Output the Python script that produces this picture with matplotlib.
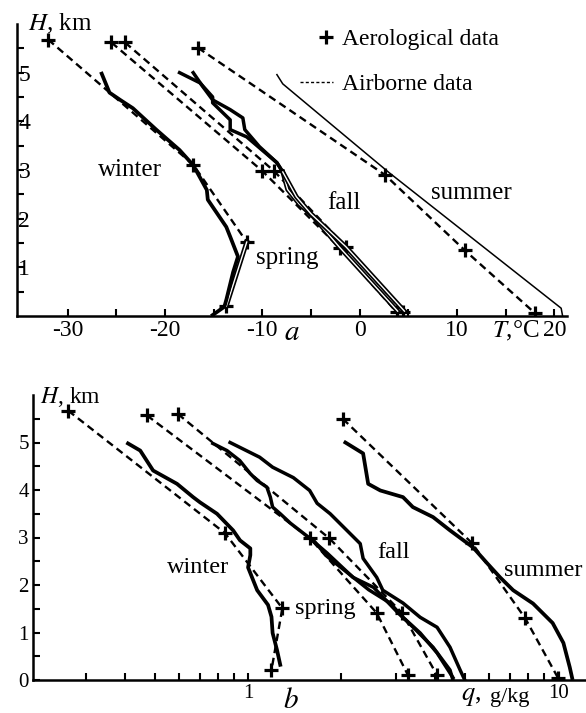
import matplotlib
matplotlib.use("Agg")
import matplotlib.pyplot as plt
import matplotlib.patheffects as pe
from matplotlib.lines import Line2D
from matplotlib.legend_handler import HandlerLine2D
from matplotlib.ticker import FixedLocator, NullFormatter
import numpy as np

plt.rcParams['font.family'] = ['Liberation Serif', 'DejaVu Serif']
plt.rcParams['mathtext.fontset'] = 'stix'
plt.rcParams['axes.unicode_minus'] = False

# ---- panel a: temperature profiles (T, deg C vs H, km) ----
# aerological soundings (dashed with +)
t_winter_aero = [-32.0, -17.1, -11.6, -13.7]
h_winter_aero = [5.68, 3.11, 1.52, 0.20]
t_spring_aero = [-25.5, -10.0, -2.05, 3.8]
h_spring_aero = [5.62, 2.98, 1.40, 0.08]
t_fall_aero = [-24.1, -8.8, -1.4, 4.5]
h_fall_aero = [5.62, 2.98, 1.42, 0.08]
t_summer_aero = [-16.6, 2.6, 10.8, 18.0]
h_summer_aero = [5.51, 2.90, 1.35, 0.06]

# airborne profiles (solid)
t_winter_air = [-26.5, -25.7, -24.6, -23.3, -20.9, -18.5, -17.1, -15.7, -15.6,
                -13.7, -13.3, -12.5, -13.0, -13.7, -13.9, -15.1]
h_winter_air = [4.98, 4.59, 4.44, 4.27, 3.83, 3.41, 3.10, 2.59, 2.39,
                1.83, 1.63, 1.22, 0.90, 0.33, 0.19, 0.02]
t_spring_air = [-18.5, -16.4, -15.1, -15.1, -13.3, -13.3, -11.6, -8.5, -7.9]
h_spring_air = [5.00, 4.79, 4.50, 4.38, 4.03, 3.83, 3.68, 3.15, 2.96]
t_spring_air_low = [-7.9, -7.4, -6.2, -4.8, -2.1, 3.9]
h_spring_air_low = [2.96, 2.60, 2.30, 2.05, 1.42, 0.10]
t_fall_air = [-17.1, -16.1, -15.1, -13.3, -12.0, -11.8, -10.3, -8.5, -7.9]
h_fall_air = [5.00, 4.71, 4.44, 4.24, 4.07, 3.83, 3.48, 3.15, 2.96]
t_fall_air_low = [-7.9, -6.5, -5.0, -1.4, 4.6]
h_fall_air_low = [2.96, 2.45, 2.10, 1.42, 0.10]
t_summer_air = [-8.5, -7.9, 0.0, 3.0, 20.7, 20.85]
h_summer_air = [4.96, 4.77, 3.45, 2.95, 0.16, 0.0]

# ---- panel b: specific humidity profiles (q, g/kg vs H, km) ----
q_winter_aero = [0.263, 0.843, 1.29, 1.19]
hq_winter_aero = [5.67, 3.09, 1.51, 0.21]
q_spring_aero = [0.472, 1.585, 2.6, 3.28]
hq_spring_aero = [5.57, 2.98, 1.41, 0.10]
q_fall_aero = [0.594, 1.83, 3.14, 4.07]
hq_fall_aero = [5.60, 2.98, 1.41, 0.10]
q_summer_aero = [2.02, 5.28, 7.83, 10.0]
hq_summer_aero = [5.50, 2.88, 1.30, 0.04]

q_winter_air = [0.41, 0.449, 0.494, 0.59, 0.665, 0.70, 0.794, 0.895, 0.942, 1.017,
                1.017, 1.0, 1.07, 1.16, 1.19, 1.20, 1.24, 1.27]
hq_winter_air = [4.98, 4.83, 4.41, 4.13, 3.85, 3.74, 3.50, 3.15, 2.94, 2.77,
                 2.63, 2.37, 1.89, 1.58, 1.33, 0.99, 0.63, 0.32]
q_spring_air = [0.77, 0.855, 0.94, 1.015, 1.07, 1.15, 1.18, 1.20, 1.27, 1.37, 1.585,
                1.80, 2.18, 2.54, 3.05, 3.41, 3.95, 4.48, 4.58]
hq_spring_air = [4.98, 4.83, 4.62, 4.35, 4.20, 4.06, 3.85, 3.64, 3.50, 3.30, 2.98,
                 2.67, 2.16, 1.95, 1.41, 1.11, 0.69, 0.21, 0.0]
q_spring_air2 = [1.62, 1.80, 2.45, 2.87, 3.16, 3.59, 4.07, 4.58]
hq_spring_air2 = [2.95, 2.60, 1.90, 1.62, 1.32, 0.99, 0.57, 0.05]
q_fall_air = [0.875, 1.09, 1.20, 1.40, 1.58, 1.67, 1.84, 2.30, 2.35, 2.60, 2.72,
              3.16, 3.59, 4.07, 4.48, 4.83, 5.0]
hq_fall_air = [5.00, 4.69, 4.48, 4.26, 3.99, 3.72, 3.50, 2.87, 2.56, 2.16, 1.89,
               1.62, 1.32, 1.11, 0.69, 0.21, 0.0]
q_summer_air = [2.06, 2.35, 2.44, 2.67, 3.16, 3.40, 3.95, 4.48, 5.32, 5.90, 6.50,
                7.16, 8.30, 9.60, 10.4, 10.9, 11.1]
hq_summer_air = [5.00, 4.77, 4.13, 3.99, 3.85, 3.64, 3.43, 3.15, 2.79, 2.46, 2.16,
                 1.89, 1.61, 1.20, 0.78, 0.27, 0.04]

season_names = ['winter', 'spring', 'fall', 'summer']
t_label_pos = [(-23.6, 3.0), (-7.4, 1.19), (-1.6, 2.33), (11.5, 2.53)]
q_label_pos = [(0.69, 2.37), (1.77, 1.51), (2.94, 2.69), (8.95, 2.31)]


def aero(ax, x, y):
    ax.plot(x, y, color='k', lw=1.7, dashes=(3.2, 2.0), marker='+', ms=10, mew=2.3)


def air(ax, x, y, lw=2.5):
    ax.plot(x, y, color='k', lw=lw, solid_joinstyle='round')


def outlined(ax, x, y):
    ax.plot(x, y, color='w', lw=1.0,
            path_effects=[pe.Stroke(linewidth=3.4, foreground='k'), pe.Normal()])


class MarkerRight(HandlerLine2D):
    # single "+" near the right end of the legend handle box
    def get_xdata(self, legend, xdescent, ydescent, width, height, fontsize):
        x = np.array([-xdescent + 0.8 * width])
        return x, x


fig = plt.figure(figsize=(5.86, 7.13), dpi=100)

# ---------- panel a ----------
ax1 = fig.add_axes([17 / 586, 1 - 316 / 713, 550 / 586, 292 / 713])
for t, h in [(t_winter_aero, h_winter_aero), (t_spring_aero, h_spring_aero),
             (t_fall_aero, h_fall_aero), (t_summer_aero, h_summer_aero)]:
    aero(ax1, t, h)
outlined(ax1, t_winter_aero[2:], h_winter_aero[2:])
air(ax1, t_winter_air, h_winter_air, lw=2.7)
air(ax1, t_spring_air, h_spring_air)
air(ax1, t_fall_air, h_fall_air)
outlined(ax1, t_spring_air_low, h_spring_air_low)
outlined(ax1, t_fall_air_low, h_fall_air_low)
air(ax1, t_summer_air, h_summer_air, lw=1.1)

ax1.set_xlim(-35.2, 21.3)
ax1.set_ylim(0, 6.0)
ax1.set_xticks([-30, -20, -10, 0, 10, 20])
ax1.set_xticklabels(['-30', '-20', '-10', '0', '10', '20'])
ax1.xaxis.set_minor_locator(FixedLocator([-25, -15, -5, 5, 15]))
ax1.set_yticks([1, 2, 3, 4, 5])
ax1.yaxis.set_minor_locator(FixedLocator([0.5, 1.5, 2.5, 3.5, 4.5, 5.5]))
ax1.tick_params(which='both', direction='in', width=1.5, length=5)
ax1.tick_params(axis='x', labelsize=17, pad=3)
ax1.tick_params(axis='y', labelsize=17, pad=-1)
for lab in ax1.get_yticklabels():
    lab.set_horizontalalignment('left')
for s in ['top', 'right']:
    ax1.spines[s].set_visible(False)
for s in ['left', 'bottom']:
    ax1.spines[s].set_linewidth(1.8)

for name, (x, y) in zip(season_names, t_label_pos):
    ax1.text(x, y, name, fontsize=18, ha='center', va='center')
ax1.text(0.02, 1.0, '$H$, km', transform=ax1.transAxes, fontsize=18, va='center')
ax1.text(-7.0, -0.058, '$a$', transform=ax1.get_xaxis_transform(), fontsize=21,
         ha='center', va='center')
ax1.text(13.6, -0.05, '$T$,°C', transform=ax1.get_xaxis_transform(), fontsize=18,
         ha='left', va='center')

h_aero = Line2D([], [], ls='none', color='k', marker='+', ms=10, mew=2.3)
h_air = Line2D([], [], color='k', lw=1.0, dashes=(2.2, 1.6))
ax1.legend([h_aero, h_air], ['Aerological data', 'Airborne data'], loc='upper left',
           bbox_to_anchor=((300 - 17) / 550, 0.985), frameon=False, fontsize=17,
           borderaxespad=0, borderpad=0, handlelength=1.4, handletextpad=0.4,
           labelspacing=1.0, handler_map={h_aero: MarkerRight(numpoints=2)})

# ---------- panel b ----------
ax2 = fig.add_axes([33 / 586, 1 - 680 / 713, 553 / 586, 285 / 713])
for q, h in [(q_winter_aero, hq_winter_aero), (q_spring_aero, hq_spring_aero),
             (q_fall_aero, hq_fall_aero), (q_summer_aero, hq_summer_aero)]:
    aero(ax2, q, h)
air(ax2, q_winter_air, hq_winter_air, lw=2.7)
air(ax2, q_spring_air, hq_spring_air)
air(ax2, q_spring_air2, hq_spring_air2)
air(ax2, q_fall_air, hq_fall_air)
air(ax2, q_summer_air, hq_summer_air, lw=2.7)

ax2.set_xscale('log')
ax2.set_xlim(0.2025, 12.3)
ax2.set_ylim(0, 6.0)
ax2.set_xticks([1, 10])
ax2.set_xticklabels(['1', '10'])
ax2.xaxis.set_minor_locator(FixedLocator([0.3, 0.4, 0.5, 0.6, 0.7, 0.8, 0.9,
                                          2, 3, 4, 5, 6, 7, 8, 9]))
ax2.xaxis.set_minor_formatter(NullFormatter())
ax2.set_yticks([0, 1, 2, 3, 4, 5])
ax2.yaxis.set_minor_locator(FixedLocator([0.5, 1.5, 2.5, 3.5, 4.5, 5.5]))
ax2.tick_params(which='both', direction='in', width=1.5, length=5)
ax2.tick_params(axis='both', labelsize=15, pad=3)
for s in ['top', 'right']:
    ax2.spines[s].set_visible(False)
for s in ['left', 'bottom']:
    ax2.spines[s].set_linewidth(1.8)

for name, (x, y) in zip(season_names, q_label_pos):
    ax2.text(x, y, name, fontsize=17.5, ha='center', va='center')
ax2.text(0.013, 0.993, '$H$, km', transform=ax2.transAxes, fontsize=17, va='center')
ax2.text(1.37, -0.075, '$b$', transform=ax2.get_xaxis_transform(), fontsize=21,
         ha='center', va='center')
ax2.text(4.85, -0.06, '$q$,', transform=ax2.get_xaxis_transform(), fontsize=19,
         ha='left', va='center')
ax2.text(6.05, -0.06, 'g/kg', transform=ax2.get_xaxis_transform(), fontsize=16,
         ha='left', va='center')

fig.savefig('out.png', dpi=100)
